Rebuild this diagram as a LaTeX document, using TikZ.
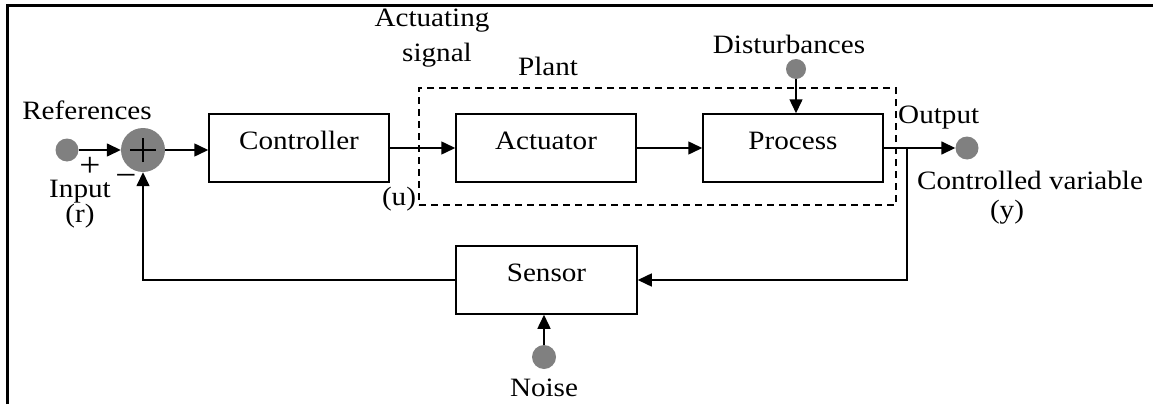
\documentclass[tikz,border=0pt]{standalone}
\usepackage{fontspec}
\setmainfont{Liberation Serif}[FakeStretch=1.1]
\usetikzlibrary{arrows.meta}
\definecolor{dotgray}{RGB}{128,128,128}
\tikzset{
  txt/.style={font=\fontsize{26.5}{30}\selectfont, inner sep=0pt},
  signtxt/.style={font=\fontsize{34}{34}\selectfont, inner sep=0pt, text depth=0pt, anchor=base},
  blockbox/.style={draw, line width=1.5pt, minimum width=180pt, minimum height=68pt,
    inner sep=0pt, text height=18pt, text depth=16pt, font=\fontsize{26.5}{30}\selectfont},
  sigdot/.style={circle, fill=dotgray, inner sep=0pt, minimum size=#1},
  flow/.style={line width=1.5pt, -{Triangle[length=14pt,width=13pt]}},
  wire/.style={line width=1.5pt},
}
\begin{document}
\begin{tikzpicture}[x=1pt,y=-1pt]
\useasboundingbox (0,0) rectangle (1153,404);
% frame
\draw[line width=3pt] (7,404) -- (7,5.5) -- (1153,5.5);
% plant
\node[draw, dashed, dash pattern=on 7pt off 5pt, line width=1.3pt, minimum width=477pt, minimum height=117pt, inner sep=0pt] (plant) at (657.5,146.5) {};
% blocks
\node[blockbox] (ctrl) at (299,148) {Controller};
\node[blockbox] (act) at (546,148) {Actuator};
\node[blockbox] (proc) at (793,148) {Process};
\node[blockbox, minimum width=181pt] (sens) at (546.5,280) {Sensor};
% sum and dots
\node[circle, fill=dotgray, inner sep=0pt, minimum size=44pt] (sum) at (143,150) {};
\draw[line width=1.1pt] ([xshift=-13pt]sum.center) -- ([xshift=13pt]sum.center);
\draw[line width=1.1pt] ([yshift=-12pt]sum.center) -- ([yshift=12pt]sum.center);
\node[sigdot=23pt] (ref) at (67,150) {};
\node[sigdot=20pt] (dist) at (796,69) {};
\node[sigdot=23pt] (outdot) at (967,148) {};
\node[sigdot=24pt] (noise) at (544,357) {};
\coordinate (br) at (907,148);
% connectors
\draw[flow] (ref) -- (sum);
\draw[flow] (sum) -- (sum -| ctrl.west);
\draw[flow] (ctrl) -- (act);
\draw[flow] (act) -- (proc);
\draw[flow] (proc) -- (outdot);
\draw[flow] (dist) -- (dist |- proc.north);
\draw[flow] (br) |- (sens.east);
\draw[flow] (sens.west) -| (sum.south);
\draw[flow] (noise) -- (noise |- sens.south);
% labels
\node[txt, anchor=base] (lref) at (87,119) {References};
\node[signtxt, text height=18pt] (lplus) at (90,176) {+};
\node[signtxt, text height=12pt] (lminus) at (126,186) {−};
\node[txt, anchor=base] (linput) at (80,197) {Input};
\node[txt, anchor=base] (lr) at (80,222) {(r)};
\node[txt, anchor=base] (lact1) at (432,27) {Actuating};
\node[txt, anchor=base] (lact2) at (437,61) {signal};
\node[txt, anchor=base] (lplant) at (548,75) {Plant};
\node[txt, anchor=base] (lu) at (399,205) {(u)};
\node[txt, anchor=base] (ldist) at (789,53) {Disturbances};
\node[txt, anchor=base west] (lout) at (898,123) {Output};
\node[txt, anchor=base] (lcv) at (1030,189) {Controlled variable};
\node[txt, anchor=base] (ly) at (1007,218) {(y)};
\node[txt, anchor=base] (lnoise) at (544,396) {Noise};
\end{tikzpicture}
\end{document}
